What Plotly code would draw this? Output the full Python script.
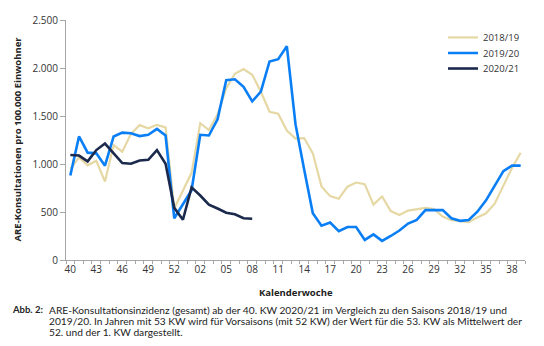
import plotly.graph_objects as go

weeks = [str(w) for w in range(40, 54)] + [f"{w:02d}" for w in range(1, 40)]

s1819 = [950, 1068, 986, 1033, 817, 1196, 1128, 1314, 1405, 1371, 1408, 1382, 536, 720,
         908, 1425, 1354, 1517, 1787, 1940, 1990, 1930, 1753, 1544, 1524, 1348, 1265, 1270,
         1111, 767, 665, 638, 764, 807, 790, 577, 662, 510, 469, 515, 530, 543, 530, 452,
         415, 408, 395, 442, 486, 587, 774, 959, 1118]
s1920 = [881, 1287, 1118, 1111, 983, 1287, 1327, 1320, 1291, 1304, 1365, 1297, 435, 580,
         726, 1304, 1297, 1466, 1872, 1882, 1804, 1652, 1753, 2068, 2092, 2227, 1415, 942,
         486, 358, 391, 300, 344, 344, 209, 267, 199, 250, 307, 380, 418, 520, 520, 520,
         435, 408, 417, 503, 622, 780, 926, 983, 983]
s2021 = [1094, 1088, 1027, 1145, 1213, 1111, 1010, 1003, 1037, 1044, 1145, 1003, 543, 419,
         756, 672, 577, 536, 493, 476, 435, 429]

series_names = ["2018/19", "2019/20", "2020/21"]
colors = ["#E6D8A4", "#0A7EF5", "#1B2A4C"]
widths = [2.2, 2.6, 2.6]

yticks = [0, 500, 1000, 1500, 2000, 2500]

caption_lines = [
    "ARE-Konsultationsinzidenz (gesamt) ab der 40. KW 2020/21 im Vergleich zu den Saisons 2018/19 und",
    "2019/20. In Jahren mit 53 KW wird für Vorsaisons (mit 52 KW) der Wert für die 53. KW als Mittelwert der",
    "52. und der 1. KW dargestellt.",
]

pos = list(range(len(weeks)))

L, R, T, B = 66, 19, 13, 86
W, H = 544, 346
pw = W - L - R

def px_to_paper_x(px):
    return (px - L) / pw

def py_to_paper_y(py):
    return (H - B - py) / (H - T - B)

legend_keys = ["legend", "legend2", "legend3"]
legend_rows = [30, 46, 62]

fig = go.Figure()
for name, vals, c, w, lk in zip(series_names, [s1819, s1920, s2021], colors, widths, legend_keys):
    fig.add_trace(go.Scatter(x=pos[:len(vals)], y=vals, mode="lines", name=name,
                             line=dict(color=c, width=w), legend=lk))

legends = {}
for lk, row in zip(legend_keys, legend_rows):
    legends[lk] = dict(x=px_to_paper_x(443), y=py_to_paper_y(row - 14), xanchor="left",
                       yanchor="top", font=dict(size=9.5, color="#333333"), itemwidth=30,
                       bgcolor="rgba(0,0,0,0)")

fig.update_layout(
    width=W, height=H,
    margin=dict(l=L, r=R, t=T, b=B),
    paper_bgcolor="white", plot_bgcolor="white",
    separators=",.",
    font=dict(family="Open Sans", size=10, color="#333333"),
    showlegend=True,
    **legends,
    xaxis=dict(range=[-0.5, len(weeks) - 0.5], showgrid=False, zeroline=False,
               showline=True, linecolor="#A6A6A6", linewidth=1,
               tickmode="array", tickvals=pos[::3], ticktext=weeks[::3],
               ticks="", tickfont=dict(size=10, color="#333333"),
               minor=dict(tickmode="array", tickvals=[p - 0.5 for p in pos] + [len(weeks) - 0.5],
                          ticks="outside", ticklen=3, tickcolor="#A6A6A6", showgrid=False)),
    yaxis=dict(range=[0, 2500], showgrid=False, zeroline=False,
               showline=True, linecolor="#A6A6A6", linewidth=1,
               tickmode="array", tickvals=yticks, tickformat=",d",
               ticks="outside", ticklen=5, tickcolor="#A6A6A6",
               tickfont=dict(size=10, color="#333333")),
)

ann = []
ann.append(dict(text="<b>ARE-Konsultationen pro 100.000 Einwohner</b>", textangle=-90,
                xref="paper", yref="paper", x=px_to_paper_x(18), y=py_to_paper_y(136),
                xanchor="center", yanchor="middle", showarrow=False,
                font=dict(size=9.5, color="#222222")))
ann.append(dict(text="<b>Kalenderwoche</b>", xref="paper", yref="paper",
                x=px_to_paper_x(296), y=py_to_paper_y(293), xanchor="center", yanchor="middle",
                showarrow=False, font=dict(size=9.5, color="#222222")))
ann.append(dict(text="<b>Abb. 2:</b>", xref="paper", yref="paper",
                x=px_to_paper_x(45), y=py_to_paper_y(311), xanchor="right", yanchor="middle",
                showarrow=False, font=dict(family="Lato", size=9.5, color="#222222")))
for i, line in enumerate(caption_lines):
    ann.append(dict(text=line, xref="paper", yref="paper",
                    x=px_to_paper_x(47), y=py_to_paper_y(311 + 11.7 * i),
                    xanchor="left", yanchor="middle", showarrow=False,
                    font=dict(family="Lato", size=10.2, color="#222222")))
fig.update_layout(annotations=ann)

fig.write_html("out.html")
